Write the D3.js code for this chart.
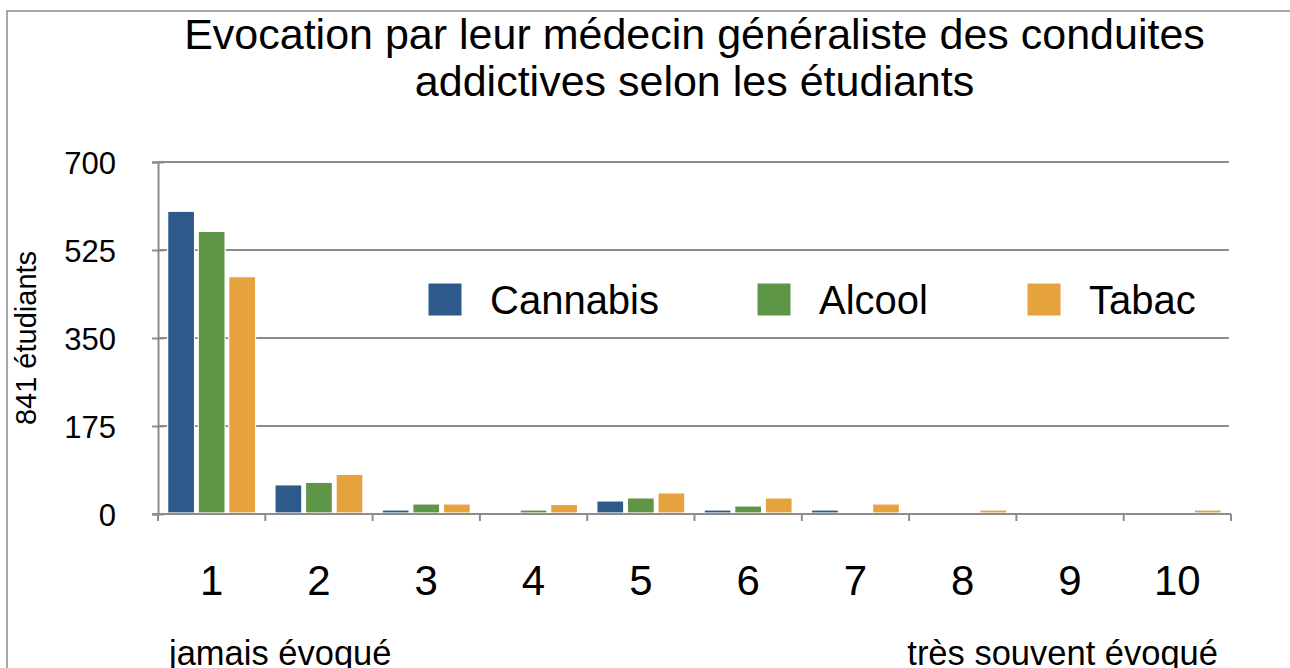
<!DOCTYPE html>
<html>
<head>
<meta charset="utf-8">
<script src="https://cdn.jsdelivr.net/npm/d3@7"></script>
<style>
  body { margin: 0; background: #fff; }
  text { font-family: Helvetica, "Liberation Sans", Arial, sans-serif; fill: #000; }
</style>
</head>
<body>
<div id="chart"></div>
<script>
// values
const categories = ["1", "2", "3", "4", "5", "6", "7", "8", "9", "10"];
const seriesNames = ["Cannabis", "Alcool", "Tabac"];
const cannabis = [600, 56, 6, 0, 24, 6, 6, 0, 0, 0];
const alcool = [560, 61, 18, 6, 30, 14, 0, 0, 0, 0];
const tabac = [470, 77, 18, 17, 40, 30, 18, 6, 0, 6];
const yTicks = [0, 175, 350, 525, 700];
const titleLines = ["Evocation par leur médecin généraliste des conduites",
                    "addictives selon les étudiants"];

const WIDTH = 1290;
const HEIGHT = 668;
const PLOT = {left: 158, right: 1231, top: 162, bottom: 514};
const COLORS = ["#2d5a8b", "#5f9547", "#e6a23c"];
const GRID = "#8c8c8c";

const table = categories.map((c, i) => ({cat: c, values: [cannabis[i], alcool[i], tabac[i]]}));

const svg = d3.select("#chart")
  .append("svg")
    .attr("width", WIDTH)
    .attr("height", HEIGHT);

// outer frame (runs off the right and bottom edges)
svg.append("rect")
  .attr("x", 7).attr("y", 11)
  .attr("width", 1300).attr("height", 700)
  .attr("fill", "none")
  .attr("stroke", "#8a8a8a")
  .attr("stroke-width", 1.5);

const X0 = d3.scaleBand()
  .domain(categories)
  .range([PLOT.left, PLOT.right])
  .paddingInner(0.18)
  .paddingOuter(0.09);

const X1 = d3.scaleBand()
  .domain(seriesNames)
  .range([0, X0.bandwidth()])
  .paddingInner(0.12);

const Y = d3.scaleLinear()
  .domain([0, 700])
  .range([PLOT.bottom, PLOT.top]);

// gridlines
svg.append("g")
  .selectAll("line")
  .data(yTicks.filter(d => d > 0))
  .enter()
  .append("line")
    .attr("x1", PLOT.left).attr("x2", PLOT.right - 2)
    .attr("y1", d => Y(d)).attr("y2", d => Y(d))
    .attr("stroke", GRID)
    .attr("stroke-width", 2);

// y axis
const yAxis = svg.append("g")
  .attr("transform", "translate(" + PLOT.left + ",0)")
  .call(d3.axisLeft(Y).tickValues(yTicks).tickSize(6).tickPadding(36));
yAxis.select(".domain").attr("stroke", GRID).attr("stroke-width", 2);
yAxis.selectAll(".tick line").attr("stroke", GRID).attr("stroke-width", 2).attr("x2", 6).attr("x1", -6);
yAxis.selectAll(".tick text")
  .attr("font-size", "31px")
  .attr("dy", "0.36em")
  .style("font-family", "Helvetica, 'Liberation Sans', Arial, sans-serif");

// bars
const groups = svg.append("g")
  .selectAll("g")
  .data(table)
  .enter()
  .append("g")
    .attr("transform", d => "translate(" + X0(d.cat) + ",0)");

groups.selectAll("rect")
  .data(d => d.values.map((v, i) => ({name: seriesNames[i], value: v, idx: i})))
  .enter()
  .append("rect")
    .attr("x", d => X1(d.name))
    .attr("y", d => Y(d.value) - 1)
    .attr("width", X1.bandwidth())
    .attr("height", d => Y(0) - Y(d.value))
    .attr("fill", d => COLORS[d.idx])
    .attr("stroke", "#fff")
    .attr("stroke-width", 1.2);

// x axis
const xAxis = svg.append("g")
  .attr("transform", "translate(0," + PLOT.bottom + ")");
xAxis.append("line")
  .attr("x1", PLOT.left - 6).attr("x2", PLOT.right)
  .attr("stroke", GRID).attr("stroke-width", 2);
const bounds = categories.map(c => X0(c) - X0.step() * X0.paddingInner() / 2);
bounds.push(PLOT.right);
bounds[0] = PLOT.left;
xAxis.selectAll(".xt")
  .data(bounds)
  .enter()
  .append("line")
    .attr("x1", d => d).attr("x2", d => d)
    .attr("y1", 0).attr("y2", 7)
    .attr("stroke", GRID).attr("stroke-width", 2);

xAxis.selectAll(".xl")
  .data(categories)
  .enter()
  .append("text")
    .attr("x", d => X0(d) + X0.bandwidth() / 2)
    .attr("y", 81)
    .attr("text-anchor", "middle")
    .attr("font-size", "42px")
    .text(d => d);

// axis titles
svg.append("text")
  .attr("transform", "translate(36," + ((PLOT.top + PLOT.bottom) / 2) + ") rotate(-90)")
  .attr("text-anchor", "middle")
  .attr("font-size", "29px")
  .text("841 étudiants");

svg.append("text")
  .attr("x", 169).attr("y", 665)
  .attr("font-size", "34.5px")
  .text("jamais évoqué");

svg.append("text")
  .attr("x", 1218).attr("y", 665)
  .attr("text-anchor", "end")
  .attr("font-size", "34.5px")
  .text("très souvent évoqué");

// title
svg.append("g")
  .selectAll("text")
  .data(titleLines)
  .enter()
  .append("text")
    .attr("x", (PLOT.left + PLOT.right) / 2)
    .attr("y", (d, i) => 49 + i * 47)
    .attr("text-anchor", "middle")
    .attr("font-size", "43px")
    .text(d => d);

// legend
const LEGEND_X = [428, 757, 1027];
const legend = svg.append("g")
  .selectAll("g")
  .data(seriesNames)
  .enter()
  .append("g")
    .attr("transform", (d, i) => "translate(" + LEGEND_X[i] + ",283)");
legend.append("rect")
  .attr("width", 34).attr("height", 33)
  .attr("fill", (d, i) => COLORS[i])
  .attr("stroke", "#fff").attr("stroke-width", 1);
legend.append("text")
  .attr("x", 62).attr("y", 31)
  .attr("font-size", "40px")
  .text(d => d);
</script>
</body>
</html>
